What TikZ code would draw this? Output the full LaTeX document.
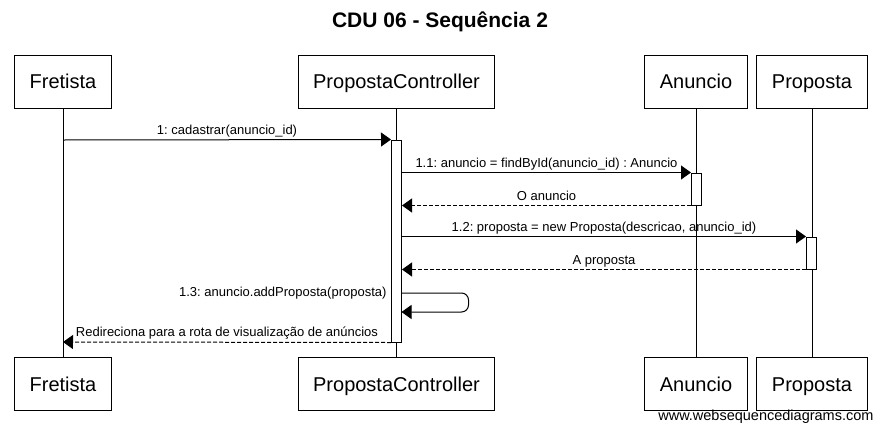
\documentclass[tikz,border=0pt]{standalone}
\usepackage{fontspec}
\setmainfont{Liberation Sans}
\usetikzlibrary{arrows.meta}
\frenchspacing

\begin{document}
\begin{tikzpicture}[x=1pt, y=-1pt, line width=1pt,
  actor/.style={draw=black, rectangle, inner xsep=15pt, minimum height=53pt, text height=14.8pt, text depth=0pt, font=\fontsize{20}{24}\selectfont},
  act/.style={draw=black, fill=white, rectangle, inner sep=0pt, minimum width=10pt},
  msg/.style={-{Triangle[length=10pt, width=14pt]}},
  reply/.style={msg, dash pattern=on 4pt off 2pt},
  lbl/.style={font=\fontsize{13}{15}\selectfont, inner sep=2pt, text height=9.5pt, text depth=3pt}]
\useasboundingbox (0,0) rectangle (880,434);

\node (title) at (440,22)
  {\fontsize{21}{25}\selectfont\bfseries CDU 06 - Sequência 2};

\node[actor] (fret) at (63,81.5)
  {Fretista};
\node[actor] (ctrl) at (396.5,81.5)
  {PropostaController};
\node[actor] (anun) at (696,81.5)
  {Anuncio};
\node[actor] (prop) at (812,81.5)
  {Proposta};

\node[actor] (fretB) at (63,384)
  {Fretista};
\node[actor] (ctrlB) at (396.5,384)
  {PropostaController};
\node[actor] (anunB) at (696,384)
  {Anuncio};
\node[actor] (propB) at (812,384)
  {Proposta};

\draw (fret.south) -- (fretB.north);
\draw (ctrl.south) -- (ctrlB.north);
\draw (anun.south) -- (anunB.north);
\draw (prop.south) -- (propB.north);

\node[act, minimum height=202pt] (actC) at (396.5,241)
  {};
\node[act, minimum height=32pt] (actA) at (696.5,189)
  {};
\node[act, minimum height=32pt] (actP) at (811.5,253)
  {};

\coordinate (f1) at (63,140);
\coordinate (f2) at (63,342);
\coordinate (selfA) at (401.5,293);
\coordinate (selfB) at (401.5,312);

\draw[msg] (f1) -- (actC.north west)
  node[lbl, midway, above] {1: cadastrar(anuncio\_id)};
\draw[msg] (actC.east |- actA.north) -- (actA.north west)
  node[lbl, midway, above] {1.1: anuncio = findById(anuncio\_id) : Anuncio};
\draw[reply] (actA.south west) -- (actC.east |- actA.south)
  node[lbl, midway, above] {O anuncio};
\draw[msg] (actC.east |- actP.north) -- (actP.north west)
  node[lbl, midway, above] {1.2: proposta = new Proposta(descricao, anuncio\_id)};
\draw[reply] (actP.south west) -- (actC.east |- actP.south)
  node[lbl, midway, above] {A proposta};

\draw[msg, rounded corners=7pt] (selfA) -- ++(67,0) |- (selfB);
\node[lbl, anchor=east] (self13) at (389,293)
  {1.3: anuncio.addProposta(proposta)};

\draw[reply] (actC.south west) -- (f2)
  node[lbl, midway, above] {Redireciona para a rota de visualização de anúncios};

\node[anchor=base east, inner sep=0pt] (wsd) at (874,420)
  {\fontsize{14.5}{17}\selectfont www.websequencediagrams.com};
\end{tikzpicture}
\end{document}
